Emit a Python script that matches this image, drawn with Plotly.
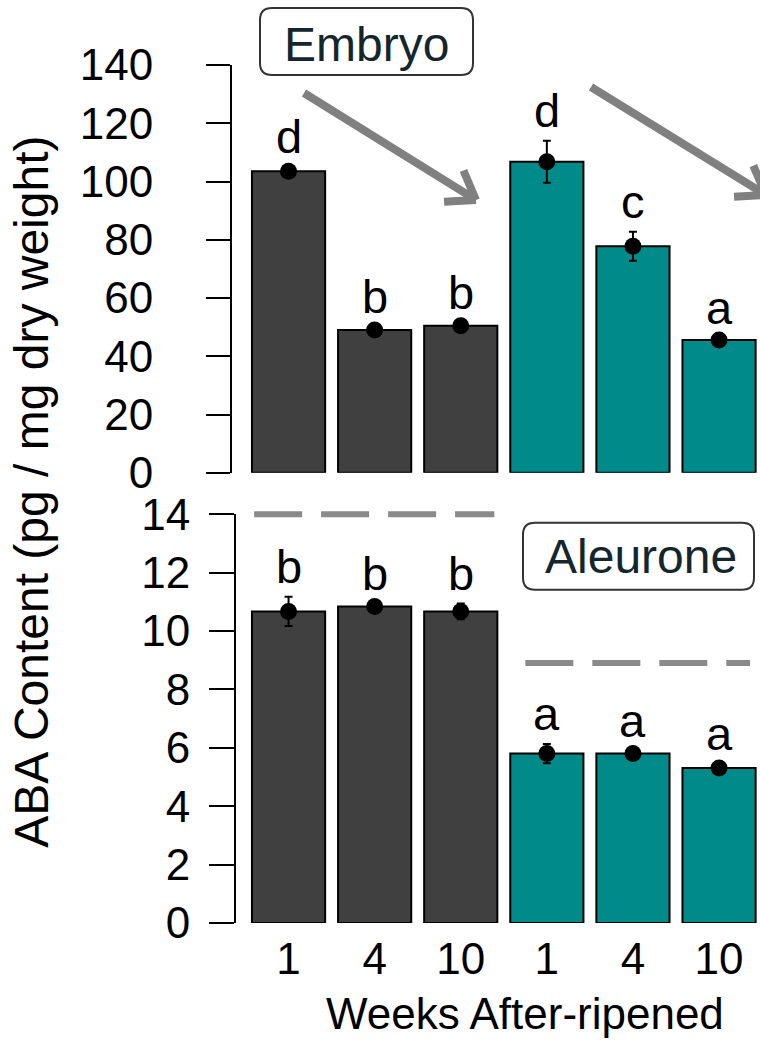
import math
import plotly.graph_objects as go

# ---------------- data ----------------
weeks = ["1", "4", "10", "1", "4", "10"]
group_of_bar = [0, 0, 0, 1, 1, 1]
group_colors = ["#404040", "#008B8A"]

embryo_mean = [103.5, 49.0, 50.5, 106.8, 77.8, 45.6]
embryo_se = [1.5, 1.0, 1.0, 7.2, 5.0, 0.8]
embryo_letters = ["d", "b", "b", "d", "c", "a"]

aleurone_mean = [10.67, 10.84, 10.67, 5.80, 5.80, 5.31]
aleurone_se = [0.50, 0.10, 0.27, 0.33, 0.10, 0.15]
aleurone_letters = ["b", "b", "b", "a", "a", "a"]

aleurone_ref_levels = [14.0, 8.9]
aleurone_ref_spans = [(-0.40, 2.39), (2.75, 5.36)]

embryo_range = [0, 140]
aleurone_range = [0, 14]
embryo_ticks = [0, 20, 40, 60, 80, 100, 120, 140]
aleurone_ticks = [0, 2, 4, 6, 8, 10, 12, 14]

# ---------------- layout geometry ----------------
W, H = 760, 1058
L, R, T, B = 231, 0, 65, 134.7
PW, PH = W - L - R, H - T - B
FONT = "Liberation Sans, Arial, sans-serif"


def px(x, y):
    return (x - L) / PW, (H - B - y) / PH


xs = list(range(len(weeks)))
colors = [group_colors[g] for g in group_of_bar]

x_dom0 = (245.5 - L) / PW
xrange = [-0.5, -0.5 + (PW - (245.5 - L)) / 86.1]
top_dom0 = (H - B - 473) / PH
bot_dom1 = (H - B - 514.3) / PH

fig = go.Figure()

# Embryo (top)
fig.add_trace(go.Bar(x=xs, y=embryo_mean, width=0.85,
                     marker=dict(color=colors, line=dict(color="black", width=2)),
                     xaxis="x", yaxis="y", showlegend=False))
fig.add_trace(go.Scatter(x=xs, y=embryo_mean, mode="markers",
                         marker=dict(color="black", size=17),
                         error_y=dict(type="data", array=embryo_se, color="black",
                                      thickness=2, width=4),
                         cliponaxis=False, xaxis="x", yaxis="y", showlegend=False))
# Aleurone (bottom)
fig.add_trace(go.Bar(x=xs, y=aleurone_mean, width=0.85,
                     marker=dict(color=colors, line=dict(color="black", width=2)),
                     xaxis="x2", yaxis="y2", showlegend=False))
fig.add_trace(go.Scatter(x=xs, y=aleurone_mean, mode="markers",
                         marker=dict(color="black", size=17),
                         error_y=dict(type="data", array=aleurone_se, color="black",
                                      thickness=2, width=4),
                         cliponaxis=False, xaxis="x2", yaxis="y2", showlegend=False))

annotations = []
for i, (m, s, lt) in enumerate(zip(embryo_mean, embryo_se, embryo_letters)):
    annotations.append(dict(x=xs[i], y=m + s, xref="x", yref="y", text=lt,
                            showarrow=False, yanchor="bottom", yshift=2,
                            font=dict(family=FONT, size=47, color="black")))
for i, (m, s, lt) in enumerate(zip(aleurone_mean, aleurone_se, aleurone_letters)):
    annotations.append(dict(x=xs[i], y=m + s, xref="x2", yref="y2", text=lt,
                            showarrow=False, yanchor="bottom", yshift=2,
                            font=dict(family=FONT, size=47, color="black")))

shapes = []
# dashed reference lines in aleurone panel (y mapped through the panel's linear scale,
# using paper refs so the line at the top of the range is not clipped)
for lvl, (a, b) in zip(aleurone_ref_levels, aleurone_ref_spans):
    yp = bot_dom1 * (lvl - aleurone_range[0]) / (aleurone_range[1] - aleurone_range[0])
    shapes.append(dict(type="line", xref="x2", yref="paper", x0=a, x1=b, y0=yp, y1=yp,
                       line=dict(color="#8a8a8a", width=6, dash="48px,19px")))


def rounded_box(x0, y0, x1, y1, r):
    def P(x, y):
        u, v = px(x, y)
        return f"{u:.5f},{v:.5f}"
    path = (f"M {P(x0 + r, y0)} L {P(x1 - r, y0)} Q {P(x1, y0)} {P(x1, y0 + r)} "
            f"L {P(x1, y1 - r)} Q {P(x1, y1)} {P(x1 - r, y1)} "
            f"L {P(x0 + r, y1)} Q {P(x0, y1)} {P(x0, y1 - r)} "
            f"L {P(x0, y0 + r)} Q {P(x0, y0)} {P(x0 + r, y0)} Z")
    return dict(type="path", xref="paper", yref="paper", path=path,
                fillcolor="white", line=dict(color="#333333", width=2), layer="above")


shapes.append(rounded_box(260, 8, 473, 75, 12))
shapes.append(rounded_box(523, 523, 754, 590, 12))


def arrow(x0, y0, x1, y1, arm=32):
    dx, dy = x1 - x0, y1 - y0
    n = math.hypot(dx, dy)
    ux, uy = -dx / n, -dy / n
    segs = [(x0, y0, x1, y1)]
    for ang in (35, -35):
        a = math.radians(ang)
        rx = ux * math.cos(a) - uy * math.sin(a)
        ry = ux * math.sin(a) + uy * math.cos(a)
        segs.append((x1, y1, x1 + arm * rx, y1 + arm * ry))
    res = []
    for (a0, b0, a1, b1) in segs:
        p0 = px(a0, b0)
        p1 = px(a1, b1)
        res.append(dict(type="line", xref="paper", yref="paper",
                        x0=p0[0], y0=p0[1], x1=p1[0], y1=p1[1],
                        line=dict(color="#808080", width=8)))
    return res


shapes += arrow(304, 93, 476, 200)
shapes += arrow(591, 87, 766, 195)

# Box labels
ex, ey = px(366.5, 44)
annotations.append(dict(x=ex, y=ey, xref="paper", yref="paper", text="Embryo",
                        showarrow=False, xanchor="center", yanchor="middle",
                        font=dict(family=FONT, size=48, color="#14262b")))
axx, axy = px(641, 557)
annotations.append(dict(x=axx, y=axy, xref="paper", yref="paper", text="Aleurone",
                        showarrow=False, xanchor="center", yanchor="middle",
                        font=dict(family=FONT, size=48, color="#14262b")))
# Axis titles
tx, ty = px(525, 1014)
annotations.append(dict(x=tx, y=ty, xref="paper", yref="paper", text="Weeks After-ripened",
                        showarrow=False, xanchor="center", yanchor="middle",
                        font=dict(family=FONT, size=44, color="black")))
yx, yy = px(32, 492)
annotations.append(dict(x=yx, y=yy, xref="paper", yref="paper",
                        text="ABA Content (pg / mg dry weight)", textangle=-90,
                        showarrow=False, xanchor="center", yanchor="middle",
                        font=dict(family=FONT, size=48, color="black")))

fig.update_layout(
    width=W, height=H,
    margin=dict(l=L, r=R, t=T, b=B, pad=0),
    paper_bgcolor="white", plot_bgcolor="white",
    font=dict(family=FONT, size=44, color="black"),
    bargap=0.15,
    xaxis=dict(domain=[x_dom0, 1], range=xrange, anchor="y", showticklabels=False,
               ticks="", showline=False, showgrid=False, zeroline=False),
    xaxis2=dict(domain=[x_dom0, 1], range=xrange, anchor="y2", tickvals=xs, ticktext=weeks,
                ticks="", showline=False, showgrid=False, zeroline=False,
                ticklabelstandoff=6, tickfont=dict(family=FONT, size=44, color="black")),
    yaxis=dict(domain=[top_dom0, 1], range=embryo_range, anchor="free", position=0,
               tickvals=embryo_ticks, ticks="outside", ticklen=24, tickwidth=2,
               tickcolor="black", showline=True, linecolor="black", linewidth=2,
               showgrid=False, zeroline=False, ticklabelstandoff=44,
               tickfont=dict(family=FONT, size=44, color="black")),
    yaxis2=dict(domain=[0, bot_dom1], range=aleurone_range, anchor="free", position=4 / PW,
                tickvals=aleurone_ticks, ticks="outside", ticklen=25, tickwidth=2,
                tickcolor="black", showline=True, linecolor="black", linewidth=2,
                showgrid=False, zeroline=False, ticklabelstandoff=10,
                tickfont=dict(family=FONT, size=44, color="black")),
    shapes=shapes,
    annotations=annotations,
)

fig.write_html("out.html")
